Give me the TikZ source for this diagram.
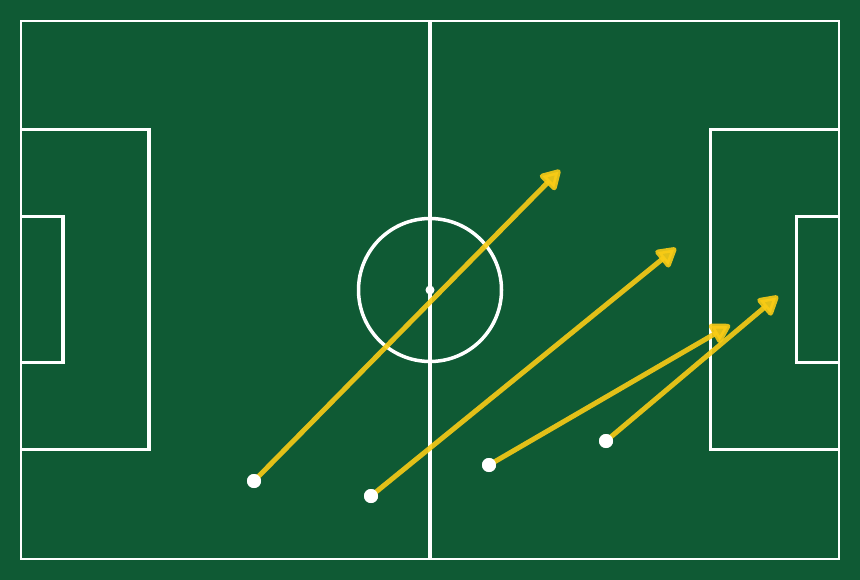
\documentclass[tikz,border=0pt]{standalone}
\usetikzlibrary{arrows.meta}
\definecolor{pitch}{HTML}{0F5A34}
\definecolor{pass}{HTML}{FACC15}
\begin{document}
\begin{tikzpicture}[x=1bp,y=-1bp,
  line/.style={draw=white,line width=3.5bp},
  border/.style={draw=white,line width=2.2bp},
  player/.style={circle,fill=white,inner sep=0pt,minimum size=14bp},
  passarrow/.style={draw=pass,line width=5bp,draw opacity=0.9,fill opacity=0.9,
    -{Triangle[length=22bp,width=24bp,round]},line cap=round}]
\fill[pitch] (0,0) rectangle (860,580);
\useasboundingbox (0,0) rectangle (860,580);
% pitch
\draw[border] (21,21) rectangle (839,559);
\draw[line] (430,21) -- (430,559);
\draw[line] (430,290) circle (71.5);
\fill[white] (430,290) circle (4.5);
\draw[line] (21,129.5) -- (149,129.5) -- (149,449.5) -- (21,449.5);
\draw[line] (21,216.5) -- (63,216.5) -- (63,362.5) -- (21,362.5);
\draw[line] (839,129.5) -- (710.5,129.5) -- (710.5,449.5) -- (839,449.5);
\draw[line] (839,216.5) -- (796.5,216.5) -- (796.5,362.5) -- (839,362.5);
% players
\node[player] (p1) at (254,481) {};
\node[player] (p2) at (371,496) {};
\node[player] (p3) at (489,465) {};
\node[player] (p4) at (606,441) {};
\coordinate (t1) at (560,170);
\coordinate (t2) at (676,248);
\coordinate (t3) at (730,325);
\coordinate (t4) at (778,296);
\draw[passarrow] (p1.center) -- (t1);
\draw[passarrow] (p2.center) -- (t2);
\draw[passarrow] (p3.center) -- (t3);
\draw[passarrow] (p4.center) -- (t4);
\node[player] at (p1) {};
\node[player] at (p2) {};
\node[player] at (p3) {};
\node[player] at (p4) {};
\end{tikzpicture}
\end{document}
